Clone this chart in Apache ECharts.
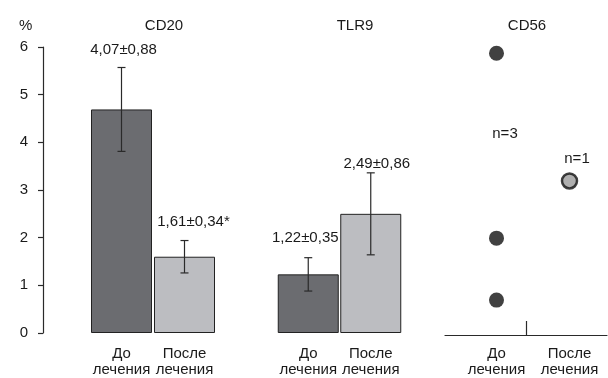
<!DOCTYPE html>
<html><head><meta charset="utf-8">
<script src="https://cdn.jsdelivr.net/npm/echarts@6/dist/echarts.min.js"></script>
<style>html,body{margin:0;padding:0;background:#fff}#c{width:608px;height:378px}</style>
</head><body><div id="c"></div>
<script>
// ---- data ----
const categories = ['До\nлечения', 'После\nлечения'];
const panelTitles = ['CD20', 'TLR9', 'CD56'];
const cd20Values = [4.69, 1.60];
const cd20Errors = [0.88, 0.34];
const cd20Labels = ['4,07±0,88', '1,61±0,34*'];
const tlr9Values = [1.23, 2.50];
const tlr9Errors = [0.35, 0.86];
const tlr9Labels = ['1,22±0,35', '2,49±0,86'];
const cd56Before = [5.87, 1.99, 0.69];
const cd56After = [3.19];
const cd56Counts = ['n=3', 'n=1'];
const yTicks = [0, 1, 2, 3, 4, 5, 6];
// label offsets (style only, px): [dx, dy] from error-bar top
const labelOffsetsCD20 = [[2, -18], [9, -19]];
const labelOffsetsTLR9 = [[-3, -20], [6, -9]];

const FONT = 'Liberation Sans, Arial, sans-serif';
const TXT = '#1a1a1a';
const AX = '#2a2a2a';
const DARK = '#6b6c70', LIGHT = '#bcbdc1';

function errSeries(idx, values, errors, labels, offs) {
  return {
    type: 'custom', xAxisIndex: idx, yAxisIndex: idx, z: 5,
    data: values.map((v, i) => [i, v - errors[i], v + errors[i]]),
    renderItem: function (params, api) {
      const i = api.value(0);
      const lo = api.coord([i, api.value(1)]);
      const hi = api.coord([i, api.value(2)]);
      const w = 4;
      const st = { stroke: AX, lineWidth: 1.2 };
      const d = params.dataIndex;
      const raw = labels[d], o = offs[d];
      return {
        type: 'group', children: [
          { type: 'line', shape: { x1: hi[0], y1: hi[1], x2: lo[0], y2: lo[1] }, style: st },
          { type: 'line', shape: { x1: hi[0] - w, y1: hi[1], x2: hi[0] + w, y2: hi[1] }, style: st },
          { type: 'line', shape: { x1: lo[0] - w, y1: lo[1], x2: lo[0] + w, y2: lo[1] }, style: st },
          { type: 'text', x: hi[0] + o[0], y: hi[1] + o[1],
            style: { text: raw, fill: TXT, font: '15px ' + FONT, align: 'center', verticalAlign: 'middle' } }
        ]
      };
    }
  };
}

const catAxis = (gi) => ({
  type: 'category', gridIndex: gi, data: categories, boundaryGap: true,
  axisLine: { show: false }, axisTick: { show: false },
  axisLabel: { color: TXT, fontFamily: FONT, fontSize: 15, lineHeight: 16, margin: 13, interval: 0 }
});
const hiddenY = (gi) => ({
  type: 'value', gridIndex: gi, min: 0, max: 6, interval: 1,
  axisLine: { show: false }, axisTick: { show: false }, axisLabel: { show: false }, splitLine: { show: false }
});
const ts = { fontFamily: FONT, fontSize: 15, fontWeight: 'normal', color: TXT };

const option = {
  animation: false,
  backgroundColor: '#fff',
  title: [
    { text: '%', left: 14, top: 13, textStyle: ts },
    { text: panelTitles[0], left: 159, top: 13, textAlign: 'center', textStyle: ts },
    { text: panelTitles[1], left: 350, top: 13, textAlign: 'center', textStyle: ts },
    { text: panelTitles[2], left: 522, top: 13, textAlign: 'center', textStyle: ts },
    { text: cd56Counts[0], left: 500, top: 121, textAlign: 'center', textStyle: ts },
    { text: cd56Counts[1], left: 572, top: 146, textAlign: 'center', textStyle: ts }
  ],
  grid: [
    { left: 90, width: 126, top: 47, height: 287 },
    { left: 277, width: 125, top: 47, height: 287 },
    { left: 460, width: 146, top: 47, height: 287 },
    { left: 445, width: 162, top: 47, height: 288 }
  ],
  xAxis: [
    catAxis(0), catAxis(1), catAxis(2),
    { type: 'value', gridIndex: 3, min: 0, max: 2,
      axisLine: { show: true, lineStyle: { color: AX, width: 1.2 } },
      axisTick: { show: true, inside: true, length: 14, customValues: [1], lineStyle: { color: AX, width: 1.2 } },
      axisLabel: { show: false }, splitLine: { show: false } }
  ],
  yAxis: [
    { type: 'value', gridIndex: 0, min: 0, max: 6, interval: 1, offset: 47,
      axisLine: { show: true, lineStyle: { color: AX, width: 1.2 } },
      axisTick: { show: true, length: 5, lineStyle: { color: AX, width: 1.2 } },
      axisLabel: { color: TXT, fontFamily: FONT, fontSize: 15, margin: 15, customValues: yTicks },
      splitLine: { show: false } },
    hiddenY(1), hiddenY(2), hiddenY(3)
  ],
  series: [
    { type: 'bar', xAxisIndex: 0, yAxisIndex: 0, barWidth: 61, barGap: '3%',
      data: cd20Values.map((v, i) => ({ value: v, itemStyle: { color: i === 0 ? DARK : LIGHT } })),
      itemStyle: { borderColor: '#222', borderWidth: 1 } },
    errSeries(0, cd20Values, cd20Errors, cd20Labels, labelOffsetsCD20),
    { type: 'bar', xAxisIndex: 1, yAxisIndex: 1, barWidth: 61,
      data: tlr9Values.map((v, i) => ({ value: v, itemStyle: { color: i === 0 ? DARK : LIGHT } })),
      itemStyle: { borderColor: '#222', borderWidth: 1 } },
    errSeries(1, tlr9Values, tlr9Errors, tlr9Labels, labelOffsetsTLR9),
    { type: 'scatter', xAxisIndex: 2, yAxisIndex: 2, symbolSize: 15,
      data: cd56Before.map(v => [0, v]), itemStyle: { color: '#111' } },
    { type: 'scatter', xAxisIndex: 2, yAxisIndex: 2, symbolSize: 15,
      data: cd56After.map(v => [1, v]), itemStyle: { color: '#9b9b9b', borderColor: '#111', borderWidth: 2.5 } }
  ]
};
echarts.init(document.getElementById('c'), null, { renderer: 'canvas' }).setOption(option);
</script></body></html>
